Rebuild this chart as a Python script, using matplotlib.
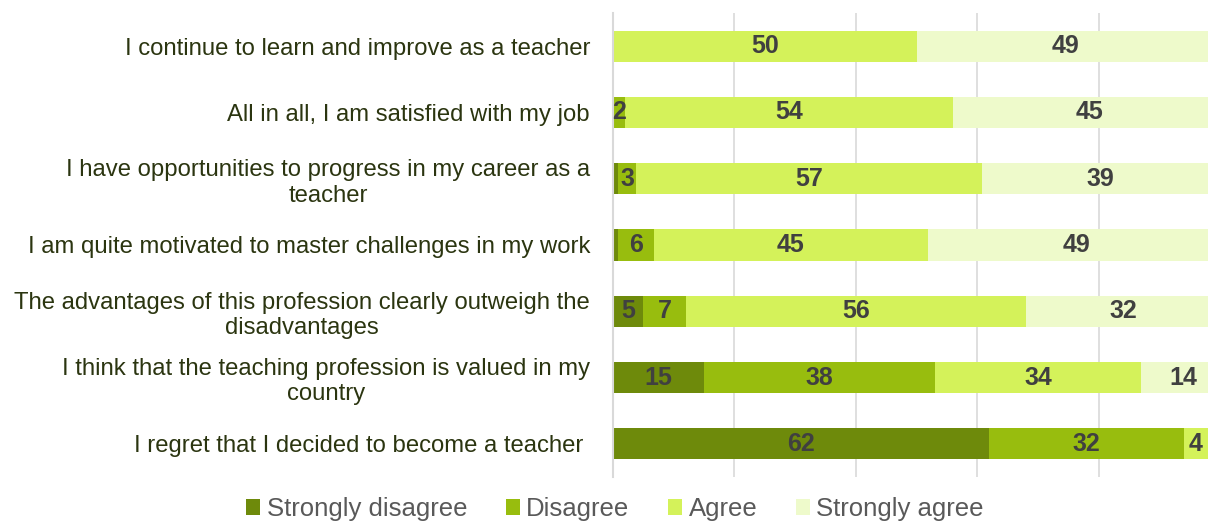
import numpy as np
import matplotlib.pyplot as plt
from matplotlib.patches import Patch

plt.rcParams['font.family'] = ['Liberation Sans', 'DejaVu Sans']

statements = [
    "I continue to learn and improve as a teacher",
    "All in all, I am satisfied with my job",
    "I have opportunities to progress in my career as a\nteacher",
    "I am quite motivated to master challenges in my work",
    "The advantages of this profession clearly outweigh the\ndisadvantages",
    "I think that the teaching profession is valued in my\ncountry",
    "I regret that I decided to become a teacher ",
]
strongly_disagree = [0, 0, 0.8, 0.8, 5, 15, 62]
disagree = [0, 2, 3, 6, 7, 38, 32]
agree = [50, 54, 57, 45, 56, 34, 4]
strongly_agree = [49, 45, 39, 49, 32, 14, 0]

series_names = ["Strongly disagree", "Disagree", "Agree", "Strongly agree"]
colors = ["#6E8A0B", "#98BD0E", "#D4F25A", "#EEFACB"]

fig = plt.figure(figsize=(12.08, 5.26), dpi=100)
ax = fig.add_axes([613 / 1208, 49 / 526, 1 - 613 / 1208, 464 / 526])

y = np.arange(len(statements))
left = np.zeros(len(statements))
for name, vals, col in zip(series_names,
                           [strongly_disagree, disagree, agree, strongly_agree],
                           colors):
    vals = np.array(vals, dtype=float)
    ax.barh(y, vals, left=left, height=0.47, color=col, label=name, zorder=2)
    # only segments wide enough get a value label
    for yi, (l, v) in enumerate(zip(left, vals)):
        if v >= 2:
            ax.text(l + v / 2, yi, f"{v:g}", ha="center", va="center",
                    fontsize=18, fontweight="bold", color="#404040", zorder=3)
    left += vals

ax.set_xlim(0, 98)
ax.set_ylim(len(statements) - 0.5, -0.5)
ax.set_xticks([0, 20, 40, 60, 80])
ax.xaxis.grid(True, color="#D9D9D9", linewidth=1.2, zorder=0)
ax.tick_params(axis="x", length=0, labelbottom=False)
ax.tick_params(axis="y", length=0, pad=16.5)
ax.set_yticks(y)
ax.set_yticklabels(statements, fontsize=17.2, color="#2B3510",
                   multialignment="center")
for side in ["top", "right", "bottom"]:
    ax.spines[side].set_visible(False)
ax.spines["left"].set_color("#D9D9D9")
ax.spines["left"].set_linewidth(1.5)

handles = [Patch(facecolor=c, edgecolor="none") for c in colors]
fig.legend(handles, series_names, loc="center", bbox_to_anchor=(615 / 1208, 17 / 526),
           ncol=4, frameon=False, handlelength=0.55, handleheight=0.55,
           handletextpad=0.25, columnspacing=1.5, labelcolor="#595959",
           prop={'size': 18.5})

fig.savefig("out.png", dpi=100)
